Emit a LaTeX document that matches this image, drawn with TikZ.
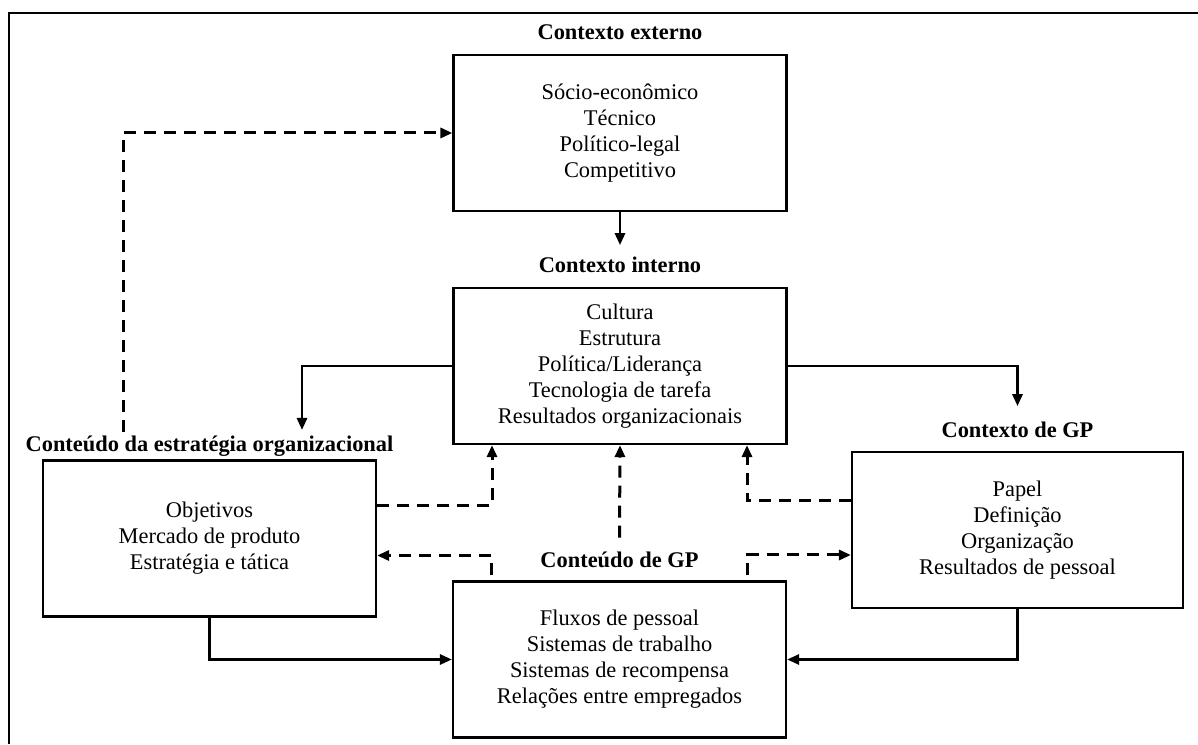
\documentclass[tikz,border=0pt]{standalone}
\usepackage{fontspec}
\setmainfont{Liberation Serif}
\usetikzlibrary{arrows.meta,positioning,calc}
\tikzset{
  caixa/.style={draw,line width=2.2pt,minimum width=333pt,minimum height=156pt,align=center,inner sep=0pt},
  titulo/.style={font=\bfseries,inner sep=0pt,anchor=base},
  seta/.style={line width=2.8pt,-{Triangle[length=12pt,width=10pt]}},
  tracejada/.style={seta,line width=3pt,dash pattern=on 12pt off 8pt}
}

\begin{document}
\begin{tikzpicture}[x=1pt,y=1pt]
  \useasboundingbox (0,0) rectangle (1198,744);
  \fontsize{22.4}{26}\selectfont
  \draw[line width=2.4pt] (9,0) -- (9,731) -- (1198,731);
  % boxes
  \node[caixa] (ext) at (620,611) {S\'ocio-econ\^omico\\T\'ecnico\\Pol\'itico-legal\\Competitivo};
  \node[caixa] (int) at (620,378) {Cultura\\Estrutura\\Pol\'itica/Lideran\c{c}a\\Tecnologia de tarefa\\Resultados organizacionais};
  \node[caixa] (strat) at (209.5,205.5) {Objetivos\\Mercado de produto\\Estrat\'egia e t\'atica};
  \node[caixa] (gpc) at (619.5,84.5) {Fluxos de pessoal\\Sistemas de trabalho\\Sistemas de recompensa\\Rela\c{c}\~oes entre empregados};
  \node[caixa,minimum width=331pt] (gpx) at (1017.5,214) {Papel\\Defini\c{c}\~ao\\Organiza\c{c}\~ao\\Resultados de pessoal};
  % titles
  \node[titulo] (extTit) at ([yshift=14pt]ext.north) {Contexto externo};
  \node[titulo] (intTit) at ([yshift=14pt]int.north) {Contexto interno};
  \node[titulo] (stratTit) at ([yshift=8pt]strat.north) {Conte\'udo da estrat\'egia organizacional};
  \node[titulo] (gpcTit) at ([yshift=13pt]gpc.north) {Conte\'udo de GP};
  \node[titulo] (gpxTit) at ([yshift=13pt]gpx.north) {Contexto de GP};
  \coordinate (a1) at (302,314);
  \coordinate (d1) at (123,312);
  % solid arrows
  \draw[seta] (ext.south) -- ([yshift=12pt]intTit.north);
  \draw[seta] (int.west) -| (a1);
  \draw[seta] (int.east) -| ([yshift=16pt]gpxTit.north);
  \draw[seta] (strat.south) |- (gpc.west);
  \draw[seta] (gpx.south) |- (gpc.east);
  % dashed arrows
  \draw[tracejada] (d1) |- (ext.west);
  \draw[tracejada] ([yshift=33pt]strat.east) -| ([xshift=-128pt]int.south);
  \draw[tracejada] ([yshift=14pt]gpcTit.north) -- (int.south);
  \draw[tracejada] ([yshift=29pt]gpx.west) -| ([xshift=127pt]int.south);
  \draw[tracejada] ([xshift=-128pt,yshift=5pt]gpc.north) |- ([yshift=-17pt]strat.east);
  \draw[tracejada] ([xshift=128pt,yshift=5pt]gpc.north) |- ([yshift=-25pt]gpx.west);
\end{tikzpicture}
\end{document}
